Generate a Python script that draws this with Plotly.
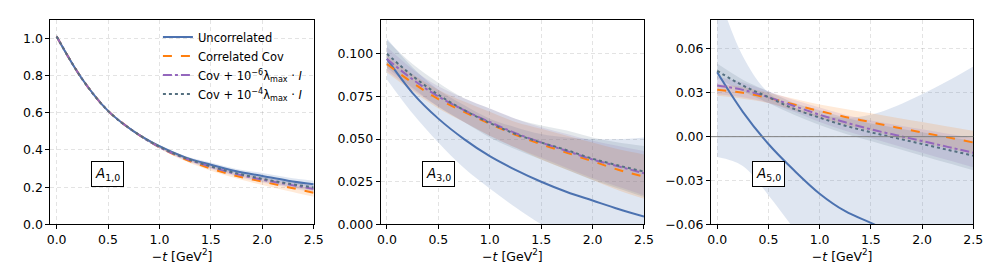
import plotly.graph_objects as go

# ---------------- data ----------------
t = [0.0, 0.25, 0.5, 0.75, 1.0, 1.25, 1.5, 1.75, 2.0, 2.25, 2.5]

# A_{1,0}
A10_unc = [1.01, 0.78, 0.61, 0.50, 0.42, 0.36, 0.32, 0.285, 0.26, 0.235, 0.215]
A10_unc_lo = [1.00, 0.775, 0.605, 0.495, 0.414, 0.352, 0.307, 0.272, 0.244, 0.220, 0.198]
A10_unc_hi = [1.02, 0.785, 0.615, 0.505, 0.426, 0.368, 0.333, 0.298, 0.276, 0.252, 0.234]
A10_cor = [1.01, 0.78, 0.61, 0.50, 0.415, 0.35, 0.30, 0.26, 0.23, 0.20, 0.17]
A10_cor_lo = [1.00, 0.775, 0.605, 0.494, 0.408, 0.340, 0.288, 0.246, 0.212, 0.180, 0.148]
A10_cor_hi = [1.02, 0.785, 0.615, 0.506, 0.422, 0.360, 0.312, 0.274, 0.248, 0.220, 0.192]
A10_r6 = [1.01, 0.78, 0.61, 0.50, 0.415, 0.355, 0.31, 0.27, 0.24, 0.215, 0.19]
A10_r6_lo = [1.00, 0.775, 0.605, 0.494, 0.408, 0.345, 0.298, 0.257, 0.225, 0.198, 0.170]
A10_r6_hi = [1.02, 0.785, 0.615, 0.506, 0.422, 0.365, 0.322, 0.283, 0.255, 0.232, 0.210]
A10_r4 = [1.01, 0.78, 0.61, 0.50, 0.418, 0.357, 0.312, 0.275, 0.245, 0.22, 0.198]
A10_r4_lo = [1.00, 0.775, 0.605, 0.495, 0.411, 0.348, 0.301, 0.262, 0.231, 0.204, 0.180]
A10_r4_hi = [1.02, 0.785, 0.615, 0.505, 0.425, 0.366, 0.323, 0.288, 0.259, 0.236, 0.216]

# A_{3,0}
A30_unc = [0.097, 0.077, 0.062, 0.050, 0.040, 0.032, 0.025, 0.019, 0.014, 0.009, 0.0046]
A30_unc_lo = [0.085, 0.065, 0.048, 0.033, 0.021, 0.010, 0.000, -0.008, -0.015, -0.022, -0.028]
A30_unc_hi = [0.109, 0.092, 0.079, 0.070, 0.062, 0.057, 0.053, 0.051, 0.050, 0.050, 0.051]
A30_cor = [0.094, 0.083, 0.0735, 0.066, 0.059, 0.0525, 0.047, 0.042, 0.037, 0.032, 0.028]
A30_cor_lo = [0.089, 0.078, 0.068, 0.060, 0.052, 0.045, 0.038, 0.032, 0.026, 0.020, 0.015]
A30_cor_hi = [0.099, 0.088, 0.079, 0.072, 0.066, 0.060, 0.056, 0.052, 0.048, 0.044, 0.041]
A30_r6 = [0.097, 0.085, 0.075, 0.067, 0.060, 0.0535, 0.048, 0.043, 0.038, 0.034, 0.030]
A30_r6_lo = [0.090, 0.079, 0.069, 0.060, 0.052, 0.045, 0.039, 0.033, 0.027, 0.022, 0.017]
A30_r6_hi = [0.104, 0.091, 0.081, 0.074, 0.068, 0.062, 0.057, 0.053, 0.049, 0.046, 0.043]
A30_r4 = [0.100, 0.087, 0.076, 0.067, 0.0595, 0.053, 0.048, 0.0435, 0.0385, 0.0345, 0.031]
A30_r4_lo = [0.092, 0.080, 0.069, 0.060, 0.051, 0.044, 0.038, 0.032, 0.026, 0.021, 0.016]
A30_r4_hi = [0.108, 0.094, 0.083, 0.074, 0.068, 0.062, 0.058, 0.055, 0.051, 0.048, 0.046]

# A_{5,0}
A50_unc = [0.044, 0.017, -0.005, -0.023, -0.039, -0.051, -0.059, -0.067, -0.073, -0.078, -0.082]
A50_unc_lo = [-0.014, -0.020, -0.040, -0.063, -0.085, -0.105, -0.125, -0.145, -0.165, -0.185, -0.205]
A50_unc_hi = [0.100, 0.055, 0.030, 0.020, 0.015, 0.013, 0.015, 0.021, 0.029, 0.038, 0.048]
A50_cor = [0.032, 0.030, 0.0265, 0.022, 0.0175, 0.0135, 0.0099, 0.0063, 0.0029, -0.0005, -0.004]
A50_cor_lo = [0.028, 0.026, 0.023, 0.018, 0.013, 0.008, 0.004, -0.0005, -0.004, -0.008, -0.012]
A50_cor_hi = [0.036, 0.034, 0.030, 0.026, 0.022, 0.019, 0.016, 0.013, 0.010, 0.007, 0.004]
A50_r6 = [0.035, 0.032, 0.027, 0.021, 0.015, 0.0098, 0.005, 0.001, -0.003, -0.007, -0.011]
A50_r6_lo = [0.029, 0.027, 0.023, 0.017, 0.010, 0.004, -0.001, -0.006, -0.011, -0.016, -0.021]
A50_r6_hi = [0.041, 0.037, 0.031, 0.025, 0.020, 0.015, 0.011, 0.008, 0.005, 0.002, -0.001]
A50_r4 = [0.045, 0.035, 0.027, 0.019, 0.013, 0.0075, 0.003, -0.001, -0.005, -0.009, -0.013]
A50_r4_lo = [0.040, 0.031, 0.023, 0.015, 0.008, 0.002, -0.003, -0.008, -0.013, -0.018, -0.023]
A50_r4_hi = [0.050, 0.039, 0.031, 0.023, 0.018, 0.013, 0.009, 0.006, 0.003, 0.000, -0.003]

series_names = ["Uncorrelated", "Correlated Cov",
                "Cov + 10<sup>−6</sup>λ<sub>max</sub> · <i>I</i>",
                "Cov + 10<sup>−4</sup>λ<sub>max</sub> · <i>I</i>"]
panel_labels = ["<i>A</i><sub>1,0</sub>", "<i>A</i><sub>3,0</sub>", "<i>A</i><sub>5,0</sub>"]
x_ticks = [0.0, 0.5, 1.0, 1.5, 2.0, 2.5]
y_ticks = [[0.0, 0.2, 0.4, 0.6, 0.8, 1.0],
           [0.0, 0.025, 0.05, 0.075, 0.1],
           [-0.06, -0.03, 0.0, 0.03, 0.06]]
y_ranges = [[0.0, 1.1], [0.0, 0.12], [-0.06, 0.08]]
y_formats = [".1f", ".3f", ".2f"]

panels = [
    [(A10_unc, A10_unc_lo, A10_unc_hi), (A10_cor, A10_cor_lo, A10_cor_hi),
     (A10_r6, A10_r6_lo, A10_r6_hi), (A10_r4, A10_r4_lo, A10_r4_hi)],
    [(A30_unc, A30_unc_lo, A30_unc_hi), (A30_cor, A30_cor_lo, A30_cor_hi),
     (A30_r6, A30_r6_lo, A30_r6_hi), (A30_r4, A30_r4_lo, A30_r4_hi)],
    [(A50_unc, A50_unc_lo, A50_unc_hi), (A50_cor, A50_cor_lo, A50_cor_hi),
     (A50_r6, A50_r6_lo, A50_r6_hi), (A50_r4, A50_r4_lo, A50_r4_hi)],
]

# ---------------- styles ----------------
line_colors = ["#4c72b0", "#ff7f0e", "#9467bd", "#557080"]
band_colors = ["rgba(76,114,176,0.18)", "rgba(255,127,14,0.16)",
               "rgba(148,103,189,0.16)", "rgba(85,112,128,0.16)"]
dashes = ["solid", "dash", "dashdot", "dot"]

W, H = 997, 276
x_dom = [(39 / W, 306 / W), (374 / W, 641 / W), (709 / W, 975 / W)]
y_dom = ((276 - 222) / H, (276 - 12) / H)
FONT = "DejaVu Sans"

fig = go.Figure()

for p, data in enumerate(panels):
    xa = "x" if p == 0 else f"x{p+1}"
    ya = "y" if p == 0 else f"y{p+1}"
    for s, (mid, lo, hi) in enumerate(data):
        fig.add_trace(go.Scatter(x=t, y=lo, mode="lines", line=dict(width=0, shape="spline"),
                                 showlegend=False, hoverinfo="skip", xaxis=xa, yaxis=ya))
        fig.add_trace(go.Scatter(x=t, y=hi, mode="lines", line=dict(width=0, shape="spline"),
                                 fill="tonexty", fillcolor=band_colors[s],
                                 showlegend=False, hoverinfo="skip", xaxis=xa, yaxis=ya))
    for s, (mid, lo, hi) in enumerate(data):
        fig.add_trace(go.Scatter(x=t, y=mid, mode="lines", name=series_names[s],
                                 line=dict(color=line_colors[s], width=2, dash=dashes[s], shape="spline"),
                                 showlegend=(p == 0), xaxis=xa, yaxis=ya))

axis_common = dict(showline=True, mirror=True, linecolor="black", linewidth=1,
                   ticks="outside", ticklen=4, tickcolor="black",
                   showgrid=True, gridcolor="rgba(0,0,0,0.11)", griddash="4px,3px", gridwidth=1,
                   zeroline=False, tickfont=dict(family=FONT, size=12.5, color="black"))

layout = dict(width=W, height=H, margin=dict(l=0, r=0, t=0, b=0),
              plot_bgcolor="white", paper_bgcolor="white",
              font=dict(family=FONT, size=12, color="black"),
              legend=dict(x=148 / W, y=(276 - 15) / H, xanchor="left", yanchor="top",
                          traceorder="normal",
                          bgcolor="rgba(0,0,0,0)", font=dict(family=FONT, size=11.5),
                          tracegroupgap=0, itemwidth=30))

for p in range(3):
    xk = "xaxis" if p == 0 else f"xaxis{p+1}"
    yk = "yaxis" if p == 0 else f"yaxis{p+1}"
    ya_anchor = "y" if p == 0 else f"y{p+1}"
    xa_anchor = "x" if p == 0 else f"x{p+1}"
    layout[xk] = dict(axis_common, domain=list(x_dom[p]), anchor=ya_anchor,
                      range=[-0.06, 2.5], tickvals=x_ticks, tickformat=".1f",
                      title=dict(text="−<i>t</i> [GeV<sup>2</sup>]", standoff=4,
                                 font=dict(family=FONT, size=12.5)))
    layout[yk] = dict(axis_common, domain=list(y_dom), anchor=xa_anchor,
                      range=y_ranges[p], tickvals=y_ticks[p], tickformat=y_formats[p])

fig.update_layout(**layout)

# zero reference line in third panel
fig.add_shape(type="line", xref="x3 domain", yref="y3", x0=0, x1=1, y0=0, y1=0,
              line=dict(color="gray", width=1))

for p in range(3):
    xr = "x domain" if p == 0 else f"x{p+1} domain"
    yr = "y domain" if p == 0 else f"y{p+1} domain"
    fig.add_annotation(text=panel_labels[p], xref=xr, yref=yr, x=0.155, y=0.185,
                       showarrow=False, font=dict(family=FONT, size=13.5, color="black"),
                       bordercolor="black", borderwidth=1, borderpad=3, bgcolor="white")

fig.write_html("out.html")
